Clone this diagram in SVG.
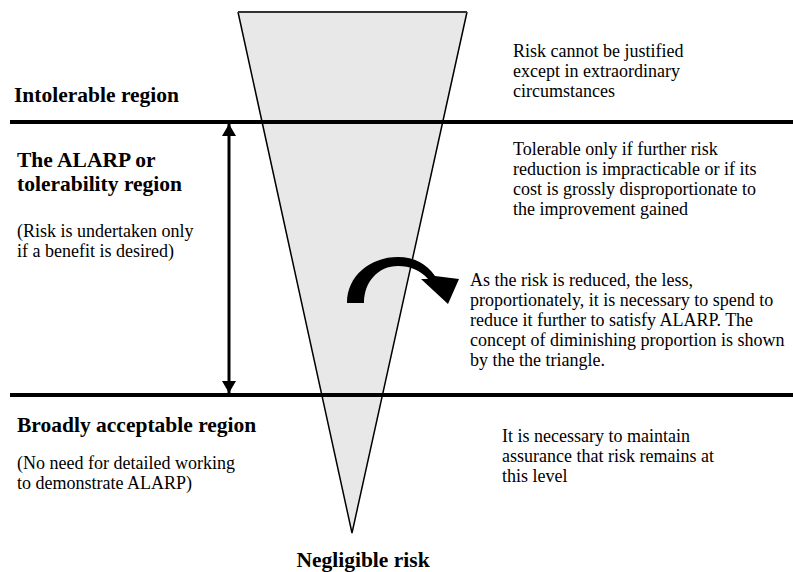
<svg xmlns="http://www.w3.org/2000/svg" width="793" height="572" viewBox="0 0 793 572">
  <defs>
    <style>
      text { font-family: "Liberation Serif", "Times New Roman", serif; fill: #000; }
      .h { font-size: 21.5px; font-weight: bold; }
      .t { font-size: 18px; }
      .band { stroke: #000; stroke-width: 4; }
      .dim { stroke: #000; stroke-width: 3; }
    </style>
    <marker id="head" viewBox="0 0 12 14" refX="12" refY="7" markerWidth="12" markerHeight="14" markerUnits="userSpaceOnUse" orient="auto">
      <path d="M0,0 L12,7 L0,14 Z" fill="#000"/>
    </marker>
  </defs>

  <rect width="793" height="572" fill="#fff"/>

  <!-- diminishing-proportion triangle -->
  <g id="triangle">
    <path d="M238,12 L467,12 L352,533 Z" fill="#e8e8e8" stroke="none"/>
    <path d="M467,12 L352,533 L238,12" fill="none" stroke="#000" stroke-width="1.5"/>
    <line x1="238" y1="12" x2="467" y2="12" stroke="#333" stroke-width="2"/>
  </g>

  <!-- region boundaries and ALARP span arrow -->
  <g id="connectors">
    <line class="band" x1="10" y1="122" x2="793" y2="122"/>
    <line class="band" x1="10" y1="395" x2="793" y2="395"/>
    <line class="dim" x1="229" y1="258" x2="229" y2="124" marker-end="url(#head)"/>
    <line class="dim" x1="229" y1="258" x2="229" y2="393" marker-end="url(#head)"/>
    <path d="M347,303 C347,276 370,257 398,257 C414,257 427,264 435,276 L459,279 L448,304 L421,279 L428,279 C420,270 410,266 398,266 C378,266 364,282 364,303 Z" fill="#000"/>
  </g>

  <g id="intolerable">
    <text class="h" x="14" y="102">Intolerable region</text>
    <text class="t" x="513" y="57">Risk cannot be justified</text>
    <text class="t" x="513" y="77">except in extraordinary</text>
    <text class="t" x="513" y="97">circumstances</text>
  </g>

  <g id="alarp">
    <text class="h" x="17" y="167">The ALARP or</text>
    <text class="h" x="17" y="191">tolerability region</text>
    <text class="t" x="17" y="237">(Risk is undertaken only</text>
    <text class="t" x="17" y="257">if a benefit is desired)</text>
    <text class="t" x="513" y="155">Tolerable only if further risk</text>
    <text class="t" x="513" y="175">reduction is impracticable or if its</text>
    <text class="t" x="513" y="195">cost is grossly disproportionate to</text>
    <text class="t" x="513" y="215">the improvement gained</text>
  </g>

  <g id="diminishing">
    <text class="t" x="470" y="286">As the risk is reduced, the less,</text>
    <text class="t" x="470" y="306">proportionately, it is necessary to spend to</text>
    <text class="t" x="470" y="326">reduce it further to satisfy ALARP. The</text>
    <text class="t" x="470" y="346">concept of diminishing proportion is shown</text>
    <text class="t" x="470" y="366">by the the triangle.</text>
  </g>

  <g id="acceptable">
    <text class="h" x="17" y="432">Broadly acceptable region</text>
    <text class="t" x="17" y="469">(No need for detailed working</text>
    <text class="t" x="17" y="489">to demonstrate ALARP)</text>
    <text class="t" x="502" y="442">It is necessary to maintain</text>
    <text class="t" x="502" y="462">assurance that risk remains at</text>
    <text class="t" x="502" y="482">this level</text>
  </g>

  <g id="negligible">
    <text class="h" x="363" y="567" text-anchor="middle">Negligible risk</text>
  </g>
</svg>
